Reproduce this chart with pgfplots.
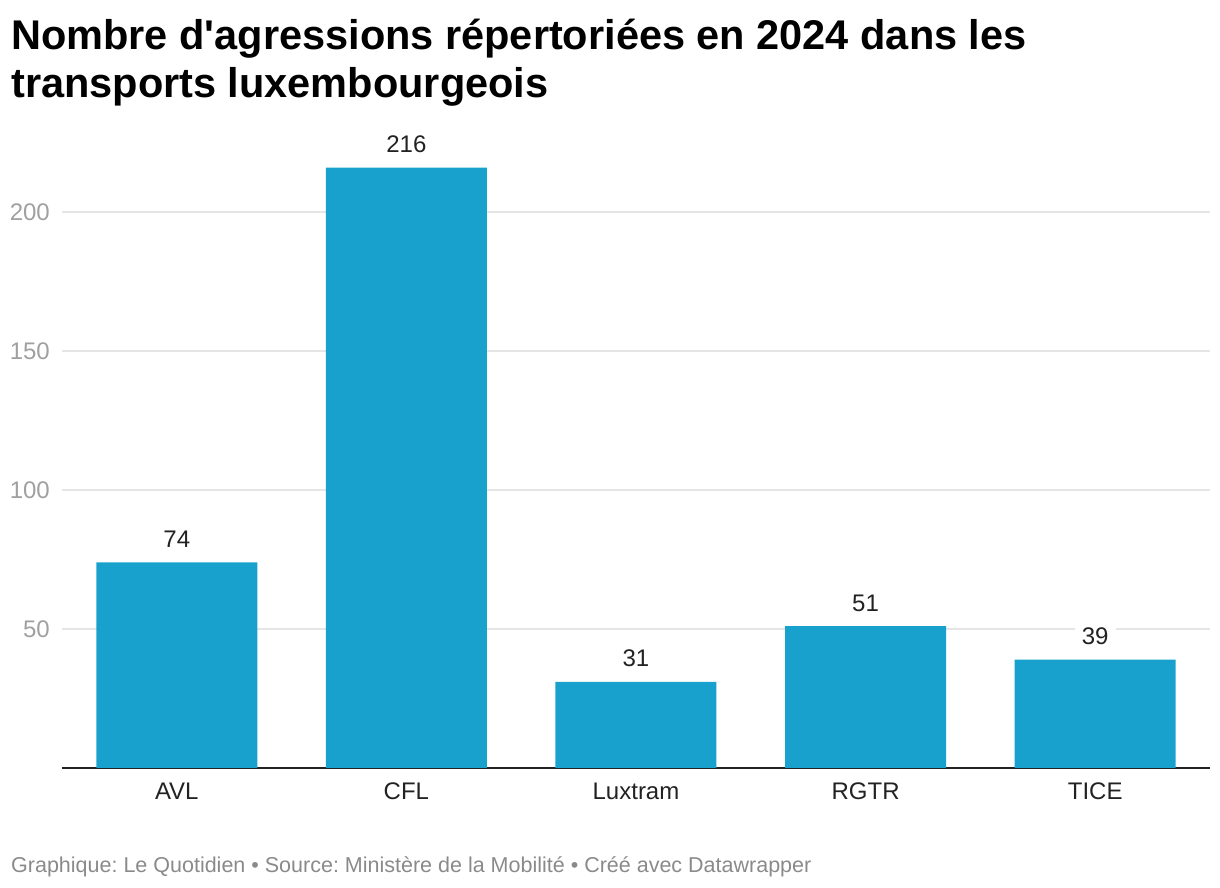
\documentclass[border=0pt]{standalone}
\usepackage{pgfplots}
\pgfplotsset{compat=1.18}
\usepackage{fontspec}
\setmainfont{Liberation Sans}
\frenchspacing

\definecolor{barblue}{HTML}{18A1CD}
\definecolor{gridgray}{HTML}{E5E5E5}
\definecolor{tickgray}{HTML}{A0A0A0}
\definecolor{labeldark}{HTML}{222222}
\definecolor{footgray}{HTML}{8A8A8A}

\begin{document}
\begin{tikzpicture}[x=1bp,y=1bp]
% page = 1220 x 888 px, axis bottom left at pixel (62,768)
\useasboundingbox (-62,-120) rectangle (1158,768);

\node[anchor=base west, inner sep=0pt, font=\fontsize{41.5bp}{48bp}\selectfont\bfseries]
  at (-51,718) {Nombre d\textquotesingle agressions répertoriées en 2024 dans les};
\node[anchor=base west, inner sep=0pt, font=\fontsize{41.5bp}{48bp}\selectfont\bfseries]
  at (-51,670) {transports luxembourgeois};

\begin{axis}[
    scale only axis,
    width=1148bp, height=611.6bp,
    xmin=-0.5, xmax=4.5,
    ymin=0, ymax=220,
    clip=false,
    axis x line=bottom,
    axis y line=left,
    x axis line style={-, line width=2bp, color=labeldark},
    y axis line style={draw=none},
    xtick={0,1,2,3,4},
    xticklabels={AVL,CFL,Luxtram,RGTR,TICE},
    ytick={50,100,150,200},
    major tick length=0pt,
    ymajorgrids,
    grid style={line width=1.5bp, color=gridgray},
    /pgf/number format/assume math mode=true,
    xticklabel style={anchor=base, inner sep=0pt, yshift=-32bp,
        font=\fontsize{24bp}{28bp}\selectfont, text=labeldark},
    yticklabel style={anchor=east, inner sep=0pt, xshift=-12bp,
        font=\fontsize{24bp}{28bp}\selectfont, text=tickgray},
    ybar=0pt, bar width=161bp,
    nodes near coords,
    every node near coord/.append style={anchor=base, yshift=15bp,
        inner xsep=7bp, inner ysep=2bp, fill=white,
        font=\fontsize{24bp}{28bp}\selectfont, text=labeldark},
]
\addplot[draw=none, fill=barblue] coordinates {
    (0,74) (1,216) (2,31) (3,51) (4,39)
};
\end{axis}

\node[anchor=base west, inner sep=0pt, font=\fontsize{21.5bp}{26bp}\selectfont, text=footgray]
  at (-51,-105) {Graphique: Le Quotidien • Source: Ministère de la Mobilité • Créé avec Datawrapper};
\end{tikzpicture}
\end{document}
